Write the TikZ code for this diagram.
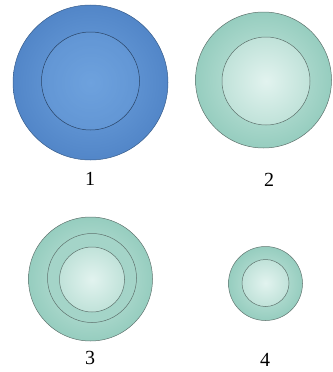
\documentclass[tikz,border=0pt]{standalone}
\usepackage{fontspec}
\setmainfont{Liberation Serif}
\begin{document}
\begin{tikzpicture}[x=1pt,y=-1pt]
        % Define colours
        \definecolor{bluedark}{RGB}{82,134,200}
        \definecolor{bluelight}{RGB}{110,162,222}
        \definecolor{tealdark}{RGB}{150,205,191}
        \definecolor{teallight}{RGB}{200,231,222}
        \definecolor{coredark}{RGB}{192,226,217}
        \definecolor{corelight}{RGB}{226,243,239}
        \definecolor{ringmid}{RGB}{164,212,200}
        \definecolor{edgegray}{RGB}{95,115,110}

        % Define disc styles
        \tikzset{
            disc/.style={circle, inner sep=0pt, draw=edgegray, line width=0.5pt},
            outerdisc/.style={disc, shade, inner color=teallight, outer color=tealdark},
            innerdisc/.style={disc, shade, inner color=corelight, outer color=coredark},
            numlabel/.style={font=\fontsize{20}{20}\selectfont, inner sep=0pt}
        }

        \useasboundingbox (0,0) rectangle (332,372);

        % Cell 1
        \node[disc, shade, inner color=bluelight, outer color=bluedark,
              draw=bluedark!70!black, minimum size=155pt] (cellone) at (90.5,82.5) {};
        \node[disc, fill=bluelight, fill opacity=0.35, draw=bluedark!50!black,
              minimum size=98pt] (coreone) at (90.5,81) {};
        \node[numlabel] (labone) at (90,179) {1};

        % Cell 2
        \node[outerdisc, minimum size=136pt] (celltwo) at (263.5,80) {};
        \node[innerdisc, minimum size=88pt] (coretwo) at (266,81) {};
        \node[numlabel] (labtwo) at (269,180) {2};

        % Cell 3
        \node[outerdisc, minimum size=124pt] (cellthree) at (90.5,279) {};
        \node[disc, fill=ringmid, minimum size=89pt] (ringthree) at (92,278) {};
        \node[innerdisc, minimum size=65pt] (corethree) at (92,279.5) {};
        \node[numlabel] (labthree) at (90,358) {3};

        % Cell 4
        \node[outerdisc, minimum size=74pt] (cellfour) at (265.5,283.5) {};
        \node[innerdisc, minimum size=47pt] (corefour) at (265.5,283) {};
        \node[numlabel] (labfour) at (265,360) {4};
    \end{tikzpicture}
\end{document}
